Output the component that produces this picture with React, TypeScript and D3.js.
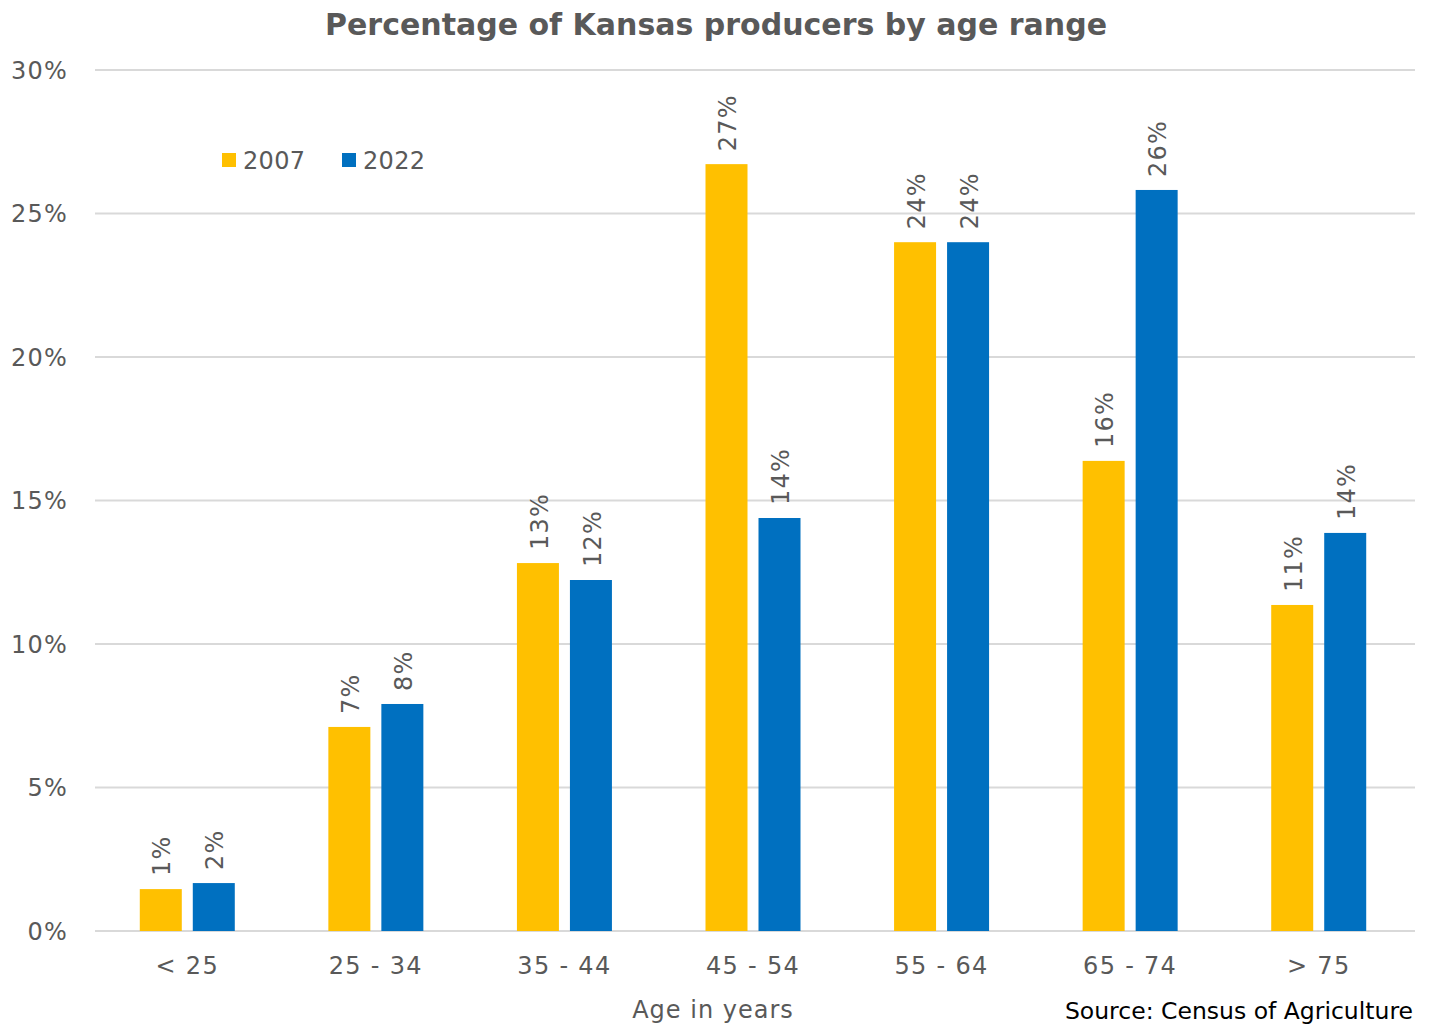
import React from "react";
import * as d3 from "d3";

const categories = ["< 25", "25 - 34", "35 - 44", "45 - 54", "55 - 64", "65 - 74", "> 75"];
const series2007 = [1.46, 7.11, 12.82, 26.72, 24.0, 16.38, 11.36];
const series2022 = [1.67, 7.91, 12.23, 14.39, 24.0, 25.82, 13.87];
const yTicks = [0, 5, 10, 15, 20, 25, 30];
const seriesNames = ["2007", "2022"];
const colors = ["#FFC000", "#0070C0"];

const W = 1429;
const H = 1025;
const left = 95;
const right = 1415;
const top = 70;
const bottom = 931;
const FONT = "'DejaVu Sans', Verdana, sans-serif";
const TEXT = "#595959";

export default function App() {
  const x = d3.scaleBand<string>().domain(categories).range([left, right]).paddingInner(0).paddingOuter(0);
  const y = d3.scaleLinear().domain([0, 30]).range([bottom, top]);
  const barW = 42;
  const gap = 11;
  const data = [series2007, series2022];

  return (
    <svg width={W} height={H} style={{ position: "absolute", left: 0, top: 0, background: "#fff" }} fontFamily={FONT}>
      <rect x={0} y={0} width={W} height={H} fill="#fff" />
      <text x={716} y={35} textAnchor="middle" fontSize={30} fontWeight="bold" fill={TEXT}>
        Percentage of Kansas producers by age range
      </text>
      {yTicks.map((t) => (
        <g key={t}>
          <line x1={left} x2={right} y1={y(t)} y2={y(t)} stroke="#d9d9d9" strokeWidth={2} />
          <text x={68} y={y(t)} dy="0.36em" textAnchor="end" fontSize={24} letterSpacing={1.2} fill={TEXT}>
            {t}%
          </text>
        </g>
      ))}
      {categories.map((c, i) => {
        const cx = (x(c) as number) + x.bandwidth() / 2 - 2;
        return (
          <g key={c}>
            {data.map((s, k) => {
              const bx = k === 0 ? cx - gap / 2 - barW : cx + gap / 2;
              const v = s[i];
              const by = y(v);
              const lx = bx + barW / 2 + 1;
              return (
                <g key={k}>
                  <rect x={bx} y={by} width={barW} height={bottom - by} fill={colors[k]} />
                  <text
                    transform={`translate(${lx},${by - 13}) rotate(-90)`}
                    dy="0.36em"
                    textAnchor="start"
                    fontSize={24}
                    letterSpacing={1.2}
                    fill={TEXT}
                  >
                    {Math.round(v)}%
                  </text>
                </g>
              );
            })}
            <text x={cx} y={965} dy="0.36em" textAnchor="middle" fontSize={24} letterSpacing={1.3} fill={TEXT}>
              {c}
            </text>
          </g>
        );
      })}
      {seriesNames.map((n, k) => {
        const lx = k === 0 ? 222 : 342;
        return (
          <g key={n}>
            <rect x={lx} y={153} width={14} height={14} fill={colors[k]} />
            <text x={lx + 21} y={160} dy="0.36em" fontSize={24} letterSpacing={0.3} fill={TEXT}>
              {n}
            </text>
          </g>
        );
      })}
      <text x={713} y={1009} dy="0.36em" textAnchor="middle" fontSize={24} letterSpacing={1} fill={TEXT}>
        Age in years
      </text>
      <text x={1413} y={1011} dy="0.36em" textAnchor="end" fontSize={23.5} fill="#000">
        Source: Census of Agriculture
      </text>
    </svg>
  );
}
